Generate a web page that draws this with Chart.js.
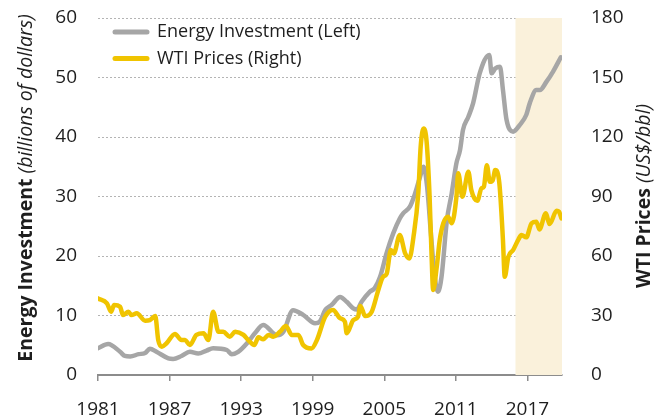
<!DOCTYPE html>
<html>
<head>
<meta charset="utf-8">
<script src="https://cdn.jsdelivr.net/npm/chart.js@4.4.1/dist/chart.umd.min.js"></script>
<style>
  html, body { margin: 0; padding: 0; background: #fff; }
  #wrap { width: 660px; height: 419px; position: relative; }
</style>
</head>
<body>
<div id="wrap"><canvas id="chart"></canvas></div>
<script>
// --- datos ---
const investYears = [1981.0, 1981.85, 1982.85, 1983.25, 1983.7, 1984.4, 1984.95, 1985.35, 1985.9, 1986.9,
  1987.3, 1988.0, 1988.7, 1989.4, 1990.1, 1990.65, 1991.8, 1992.2, 1992.75, 1993.6,
  1994.15, 1994.85, 1996.0, 1996.55, 1997.35, 1998.2, 1999.2, 1999.6, 2000.05, 2000.6,
  2001.3, 2001.85, 2002.4, 2002.7, 2003.1, 2003.8, 2004.2, 2004.65, 2005.2, 2005.75,
  2006.3, 2006.6, 2007.15, 2007.55, 2008.0, 2008.3, 2008.6, 2008.9, 2009.2, 2009.5,
  2009.8, 2010.25, 2010.65, 2011.05, 2011.35, 2011.6, 2012.05, 2012.45, 2013.0, 2013.8,
  2014.0, 2014.3, 2014.7, 2014.95, 2015.25, 2015.8, 2016.35, 2016.9, 2017.2, 2017.75,
  2018.05, 2018.6, 2019.15, 2019.8];
const investValues = [4.5, 5.2, 3.9, 3.2, 3.1, 3.5, 3.7, 4.4, 3.9, 2.8,
  2.7, 3.2, 3.9, 3.6, 4.1, 4.5, 4.2, 3.5, 3.9, 5.6,
  7.0, 8.4, 6.7, 7.3, 10.9, 10.1, 8.7, 9.0, 10.9, 11.8,
  13.1, 12.3, 11.2, 11.0, 12.3, 14.0, 14.6, 16.5, 20.5, 23.8,
  26.3, 27.2, 28.3, 30.3, 33.3, 35.0, 31.5, 24.0, 17.0, 14.0,
  16.5, 26.0, 30.5, 35.6, 37.8, 41.2, 43.4, 45.7, 50.7, 53.8,
  50.7, 51.5, 51.8, 47.9, 42.9, 40.9, 42.0, 43.7, 45.7, 47.9,
  47.9, 49.3, 51.0, 53.4];

const wtiYears = [1981.0, 1981.75, 1982.1, 1982.35, 1982.85, 1983.1, 1983.55, 1983.8, 1984.25, 1984.95,
  1985.35, 1985.8, 1986.05, 1986.35, 1986.75, 1987.45, 1988.0, 1988.3, 1988.7, 1989.25,
  1989.85, 1990.25, 1990.65, 1991.1, 1991.5, 1992.05, 1992.5, 1993.2, 1993.6, 1994.1,
  1994.45, 1994.85, 1995.3, 1995.7, 1996.25, 1996.75, 1997.25, 1997.8, 1998.2, 1998.9,
  1999.35, 2000.05, 2000.7, 2001.3, 2001.7, 2001.85, 2002.4, 2002.8, 2003.0, 2003.4,
  2003.95, 2004.5, 2004.9, 2005.2, 2005.55, 2005.8, 2006.3, 2006.75, 2007.1, 2007.45,
  2007.85, 2008.05, 2008.3, 2008.55, 2008.8, 2008.95, 2009.1, 2009.4, 2009.65, 2009.95,
  2010.35, 2010.65, 2011.05, 2011.2, 2011.55, 2012.05, 2012.3, 2012.8, 2013.15, 2013.35,
  2013.6, 2013.85, 2014.1, 2014.3, 2014.65, 2014.95, 2015.1, 2015.4, 2015.8, 2016.25,
  2016.5, 2016.9, 2017.35, 2017.75, 2018.0, 2018.55, 2018.85, 2019.45, 2019.65, 2019.85];
const wtiValues = [38.6, 36.1, 31.9, 35.3, 34.4, 30.2, 31.9, 30.2, 31.1, 27.4,
  27.7, 29.7, 17.6, 14.3, 16.0, 20.7, 17.6, 17.6, 15.1, 20.2,
  21.0, 17.6, 31.9, 21.8, 21.8, 19.3, 21.8, 20.2, 17.6, 15.1,
  19.0, 18.0, 20.2, 19.3, 21.8, 24.7, 20.2, 20.2, 15.1, 13.4,
  17.6, 29.4, 32.8, 28.6, 26.9, 21.0, 27.7, 29.4, 34.8, 29.7,
  31.9, 42.8, 49.5, 51.0, 63.0, 61.3, 70.6, 61.3, 58.8, 69.7,
  91.6, 115, 124.3, 117.6, 89.9, 63.0, 42.8, 54.6, 68.0, 76.5,
  79.8, 76.5, 89.9, 101.7, 89.9, 102.5, 93.2, 87.8, 94.1, 94.9,
  105.8, 97.4, 98.3, 103.3, 96.6, 68.0, 49.5, 59.6, 63.0, 68.4,
  70.6, 69.4, 76.5, 77.3, 73.4, 81.5, 76.1, 82.8, 82.3, 79.0];

const yearTicks = [1981, 1987, 1993, 1999, 2005, 2011, 2017];
const xMin = 1981;
const xMax = 2019.9;
const shadeStart = 2016;

const GRIS = "#a6a6a6";
const AMARILLO = "#f0c400";
const FUENTE = "'Open Sans', sans-serif";
const TEXTO = "#1e1e1e";

// franja sombreada (proyección)
const sombreado = {
  id: "sombreado",
  beforeDatasetsDraw(chart) {
    const { ctx, chartArea, scales } = chart;
    const x0 = scales.x.getPixelForValue(shadeStart);
    const x1 = scales.x.getPixelForValue(xMax);
    ctx.save();
    ctx.fillStyle = "#faf1db";
    ctx.fillRect(x0, chartArea.top, x1 - x0, chartArea.bottom - chartArea.top);
    ctx.restore();
  }
};

// leyenda dentro del área y títulos de ejes con negrita + cursiva
const textos = {
  id: "textos",
  afterDraw(chart) {
    const { ctx } = chart;
    ctx.save();

    chart.data.datasets.forEach((ds, i) => {
      const y = 32 + i * 26.5;
      ctx.strokeStyle = ds.borderColor;
      ctx.lineWidth = 5;
      ctx.lineCap = "round";
      ctx.beginPath();
      ctx.moveTo(115, y);
      ctx.lineTo(147, y);
      ctx.stroke();
      ctx.fillStyle = TEXTO;
      ctx.font = `18px ${FUENTE}`;
      ctx.textBaseline = "middle";
      ctx.textAlign = "left";
      ctx.fillText(ds.label, 157, y);
    });

    function tituloVertical(cx, cy, negrita, cursiva) {
      ctx.save();
      ctx.translate(cx, cy);
      ctx.rotate(-Math.PI / 2);
      ctx.fillStyle = TEXTO;
      ctx.textBaseline = "middle";
      ctx.textAlign = "left";
      const fB = `bold 19.5px ${FUENTE}`;
      const fI = `italic 19.5px ${FUENTE}`;
      ctx.font = fB;
      const wB = ctx.measureText(negrita).width;
      ctx.font = fI;
      const wI = ctx.measureText(cursiva).width;
      const inicio = -(wB + wI) / 2;
      ctx.font = fB;
      ctx.fillText(negrita, inicio, 0);
      ctx.font = fI;
      ctx.fillText(cursiva, inicio + wB, 0);
      ctx.restore();
    }
    tituloVertical(26, 188, "Energy Investment ", "(billions of dollars)");
    tituloVertical(644, 196, "WTI Prices ", "(US$/bbl)");

    ctx.restore();
  }
};

const toPoints = (xs, ys) => xs.map((x, i) => ({ x, y: ys[i] }));

// ancho fijo de los ejes verticales, sin margen extra arriba/abajo
const ajustarEjeY = scale => {
  scale.width = 98;
  scale.paddingTop = 0;
  scale.paddingBottom = 0;
};

new Chart(document.getElementById("chart"), {
  type: "line",
  data: {
    datasets: [
      {
        label: "Energy Investment (Left)",
        data: toPoints(investYears, investValues),
        borderColor: GRIS,
        borderWidth: 4.5,
        yAxisID: "y",
        order: 1
      },
      {
        label: "WTI Prices (Right)",
        data: toPoints(wtiYears, wtiValues),
        borderColor: AMARILLO,
        borderWidth: 4.5,
        yAxisID: "y1",
        order: 0
      }
    ]
  },
  options: {
    responsive: true,
    maintainAspectRatio: false,
    animation: false,
    layout: { padding: { top: 18, left: 0, right: 0, bottom: 0 } },
    elements: {
      point: { radius: 0 },
      line: { cubicInterpolationMode: "monotone", borderCapStyle: "round", borderJoinStyle: "round" }
    },
    plugins: {
      legend: { display: false },
      tooltip: { enabled: false }
    },
    scales: {
      x: {
        type: "linear",
        min: xMin,
        max: xMax,
        afterBuildTicks: scale => { scale.ticks = yearTicks.map(v => ({ value: v })); },
        afterFit: scale => { scale.height = 44; },
        border: { color: "#8c8c8c", width: 2 },
        grid: { drawOnChartArea: false, drawTicks: true, tickLength: 6, color: "#8c8c8c", lineWidth: 1.5 },
        ticks: {
          autoSkip: false,
          maxRotation: 0,
          padding: 17,
          color: TEXTO,
          font: { family: FUENTE, size: 19 },
          callback: v => String(v)
        }
      },
      y: {
        position: "left",
        min: 0,
        max: 60,
        afterFit: ajustarEjeY,
        border: { display: false, dash: [2, 2] },
        grid: {
          drawTicks: false,
          color: ctx => (ctx.tick && ctx.tick.value === 0 ? "rgba(0,0,0,0)" : "#b4b4b4"),
          lineWidth: 1
        },
        ticks: { stepSize: 10, padding: 21, color: TEXTO, font: { family: FUENTE, size: 19 } }
      },
      y1: {
        position: "right",
        min: 0,
        max: 180,
        afterFit: ajustarEjeY,
        border: { display: false },
        grid: { display: false },
        ticks: { stepSize: 30, padding: 21, color: TEXTO, font: { family: FUENTE, size: 19 } }
      }
    }
  },
  plugins: [sombreado, textos]
});
</script>
</body>
</html>
